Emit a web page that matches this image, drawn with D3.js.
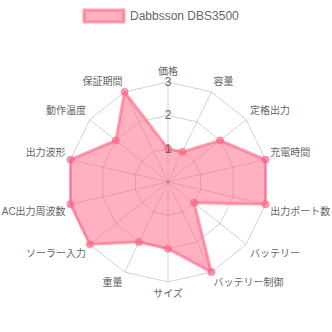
<!DOCTYPE html>
<html>
<head>
<meta charset="utf-8">
<script src="https://cdn.jsdelivr.net/npm/d3@7"></script>
<style>
  body { margin: 0; background: #fff; }
  svg text { font-family: "Helvetica Neue", Helvetica, Arial, "Liberation Sans", "Noto Sans CJK JP", sans-serif; fill: #666; }
</style>
</head>
<body>
<div id="Radar"></div>
<script>
// chart data
var seriesName = "Dabbsson DBS3500";
var axisLabels = ["価格", "容量", "定格出力", "充電時間", "出力ポート数", "バッテリー", "バッテリー制御",
    "サイズ", "重量", "ソーラー入力", "AC出力周波数", "出力波形", "動作温度", "保証期間"];
var seriesValues = [1, 1, 2, 3, 3, 1, 3, 2, 2, 3, 3, 3, 2, 3];
var tickValues = [1, 2, 3];

var width = 332, height = 332;
var cx = 168, cy = 182, radius = 100;

var svg = d3.select("#Radar").append("svg")
    .attr("width", width)
    .attr("height", height);

// radial scale for values, band scale for the angle of each axis
var rScale = d3.scaleLinear().domain([0, d3.max(tickValues)]).range([0, radius]);
var aScale = d3.scaleBand().domain(axisLabels).range([0, 2 * Math.PI]);

function pos(label, r) {
    var a = aScale(label);
    return [cx + r * Math.sin(a), cy - r * Math.cos(a)];
}

var g = svg.append("g");

// grid rings (polygons)
tickValues.forEach(function (t) {
    g.append("path")
        .attr("d", d3.line()(axisLabels.map(function (l) { return pos(l, rScale(t)); })) + "Z")
        .attr("fill", "none")
        .attr("stroke", "rgba(0,0,0,0.18)")
        .attr("stroke-width", 1);
});

// angle lines
axisLabels.forEach(function (l) {
    var p = pos(l, radius);
    g.append("line")
        .attr("x1", cx).attr("y1", cy)
        .attr("x2", p[0]).attr("y2", p[1])
        .attr("stroke", "rgba(0,0,0,0.18)")
        .attr("stroke-width", 1);
});

// data polygon
var radar = d3.lineRadial()
    .angle(function (d, i) { return aScale(axisLabels[i]); })
    .radius(function (d) { return rScale(d); })
    .curve(d3.curveLinearClosed);

g.append("path")
    .datum(seriesValues)
    .attr("transform", "translate(" + cx + "," + cy + ")")
    .attr("d", radar)
    .attr("fill", "rgba(255,99,132,0.5)")
    .attr("stroke", "rgba(255,99,132,0.6)")
    .attr("stroke-width", 3)
    .attr("stroke-linejoin", "round");

// points
g.selectAll("circle.pt")
    .data(seriesValues)
    .enter()
    .append("circle")
    .attr("class", "pt")
    .attr("cx", function (d, i) { return pos(axisLabels[i], rScale(d))[0]; })
    .attr("cy", function (d, i) { return pos(axisLabels[i], rScale(d))[1]; })
    .attr("r", 3.5)
    .attr("fill", "rgba(255,99,132,0.6)")
    .attr("stroke", "rgba(255,99,132,0.7)")
    .attr("stroke-width", 1);

// tick labels on the vertical axis
g.selectAll("text.tick")
    .data(tickValues)
    .enter()
    .append("text")
    .attr("class", "tick")
    .attr("x", cx)
    .attr("y", function (d) { return cy - rScale(d); })
    .attr("text-anchor", "middle")
    .attr("dominant-baseline", "central")
    .style("font-size", "12px")
    .text(function (d) { return d; });

// point labels, placed like Chart.js does
var labelPad = 5, lineH = 12;
axisLabels.forEach(function (l) {
    var deg = aScale(l) * 180 / Math.PI;
    var p = pos(l, radius + labelPad);
    var anchor = (Math.abs(deg) < 0.01 || Math.abs(deg - 180) < 0.01) ? "middle" : (deg < 180 ? "start" : "end");
    var top = p[1];
    if (Math.abs(deg - 90) < 0.01 || Math.abs(deg - 270) < 0.01) top -= lineH / 2;
    else if (deg > 270 || deg < 90) top -= lineH;
    g.append("text")
        .attr("x", p[0])
        .attr("y", top + lineH / 2)
        .attr("text-anchor", anchor)
        .attr("dominant-baseline", "central")
        .style("font-size", "10px")
        .text(l);
});

// legend
svg.append("rect")
    .attr("x", 84).attr("y", 10)
    .attr("width", 40).attr("height", 12)
    .attr("fill", "rgba(255,99,132,0.5)")
    .attr("stroke", "rgba(255,99,132,0.6)")
    .attr("stroke-width", 3);
svg.append("text")
    .attr("x", 130).attr("y", 16)
    .attr("dominant-baseline", "central")
    .style("font-size", "12px")
    .text(seriesName);
</script>
</body>
</html>
